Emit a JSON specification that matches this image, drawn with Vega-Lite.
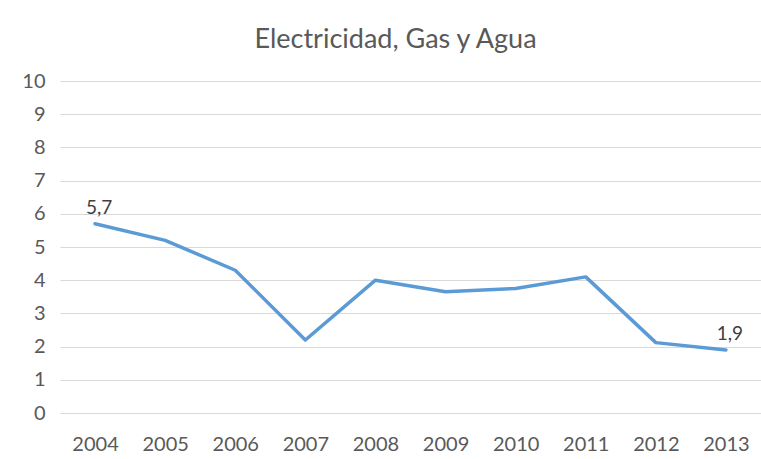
{
  "$schema": "https://vega.github.io/schema/vega-lite/v6.json",
  "width": 701,
  "height": 332,
  "autosize": {"type": "none"},
  "padding": {"left": 60, "top": 81, "right": 0, "bottom": 46},
  "background": "#ffffff",
  "title": {
    "text": "Electricidad, Gas y Agua",
    "font": "Lato",
    "fontSize": 27,
    "fontWeight": "normal",
    "color": "#595959",
    "anchor": "middle",
    "dx": -15,
    "offset": 17
  },
  "config": {
    "view": {"stroke": null},
    "locale": {"number": {"decimal": ",", "thousands": ".", "grouping": [3], "currency": ["", " €"]}},
    "axis": {"labelFont": "Lato", "labelFontSize": 20, "labelColor": "#595959", "domain": false, "ticks": false, "title": null}
  },
  "data": {
    "values": [
      {"year": "2004", "value": 5.7},
      {"year": "2005", "value": 5.2},
      {"year": "2006", "value": 4.3},
      {"year": "2007", "value": 2.2},
      {"year": "2008", "value": 4.0},
      {"year": "2009", "value": 3.65},
      {"year": "2010", "value": 3.75},
      {"year": "2011", "value": 4.1},
      {"year": "2012", "value": 2.12},
      {"year": "2013", "value": 1.9}
    ]
  },
  "encoding": {
    "x": {"field": "year", "type": "ordinal", "axis": {"labelAngle": 0, "grid": false, "labelPadding": 21, "labelBaseline": "top"}},
    "y": {"field": "value", "type": "quantitative", "scale": {"domain": [0, 10]}, "axis": {"values": [0,1,2,3,4,5,6,7,8,9,10], "grid": true, "gridColor": "#d9d9d9", "gridWidth": 1, "labelPadding": 15}}
  },
  "layer": [
    {"mark": {"type": "line", "color": "#5b9bd5", "strokeWidth": 3.5, "strokeJoin": "round", "strokeCap": "round"}},
    {
      "transform": [{"filter": "datum.year == '2004' || datum.year == '2013'"}],
      "mark": {"type": "text", "font": "Lato", "fontSize": 19, "color": "#404040", "dy": -16, "dx": 4},
      "encoding": {"text": {"field": "value", "type": "quantitative", "format": ".1f"}}
    }
  ]
}
